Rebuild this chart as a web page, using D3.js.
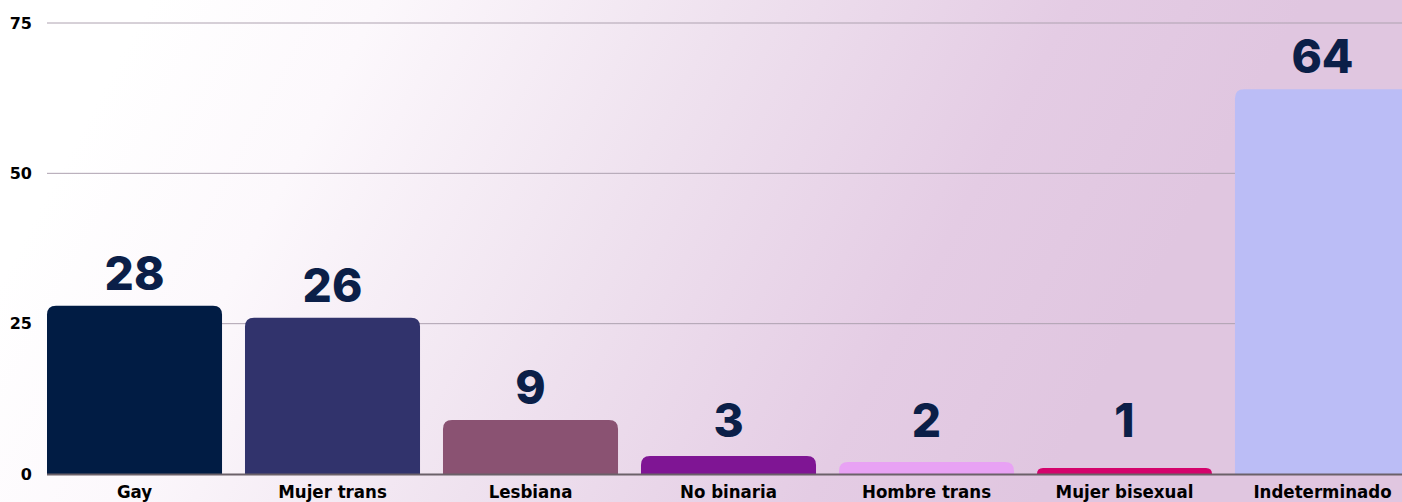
<!DOCTYPE html>
<html>
<head>
<meta charset="utf-8">
<script src="https://cdn.jsdelivr.net/npm/d3@7"></script>
<style>
  html, body { margin: 0; padding: 0; background: #fff; }
  svg { display: block; }
</style>
</head>
<body>
<svg id="chart"></svg>
<script>
// data
const categories = ['Gay', 'Mujer trans', 'Lesbiana', 'No binaria', 'Hombre trans', 'Mujer bisexual', 'Indeterminado'];
const values = [28, 26, 9, 3, 2, 1, 64];
const barColors = ['#011c44', '#31336c', '#8a5272', '#7f1594', '#e8a2f4', '#d4036c', '#bbbdf6'];
const yTicks = [0, 25, 50, 75];

const width = 1402;
const height = 502;
const margin = { top: 23, right: 0, bottom: 28, left: 47 };

const svg = d3.select('#chart')
    .attr('width', width)
    .attr('height', height);

// background wash: white at the left, lavender towards the right
const defs = svg.append('defs');
const grad = defs.append('linearGradient')
    .attr('id', 'bg')
    .attr('gradientUnits', 'userSpaceOnUse')
    .attr('x1', 150).attr('y1', 0)
    .attr('x2', 1050).attr('y2', 480);
grad.append('stop').attr('offset', '0').attr('stop-color', '#ffffff');
grad.append('stop').attr('offset', '0.2').attr('stop-color', '#fcf8fc');
grad.append('stop').attr('offset', '0.5').attr('stop-color', '#efe2ef');
grad.append('stop').attr('offset', '0.8').attr('stop-color', '#e4cce4');
grad.append('stop').attr('offset', '1').attr('stop-color', '#e0c6e0');

svg.append('rect')
    .attr('width', width)
    .attr('height', height)
    .attr('fill', 'url(#bg)');

// scales
const x = d3.scaleBand()
    .domain(categories)
    .range([margin.left, 1410])
    .paddingInner(0.116)
    .paddingOuter(0);

const y = d3.scaleLinear()
    .domain([0, 75])
    .range([height - margin.bottom, margin.top]);

// grid
svg.append('g')
    .selectAll('line')
    .data(yTicks.filter(d => d > 0))
    .join('line')
    .attr('x1', margin.left)
    .attr('x2', width)
    .attr('y1', d => y(d))
    .attr('y2', d => y(d))
    .attr('stroke', '#aea2b0')
    .attr('stroke-width', 1);

// y axis labels
const yAxis = svg.append('g')
    .attr('transform', `translate(${margin.left - 15},0)`)
    .call(d3.axisLeft(y).tickValues(yTicks).tickSize(0).tickPadding(0));
yAxis.select('.domain').remove();
yAxis.selectAll('text')
    .attr('fill', '#000')
    .style('font-family', '"DejaVu Sans", sans-serif')
    .style('font-weight', 'bold')
    .style('font-size', '16px');

// bars, rounded on top only
const r = 9;
function barPath(d, i) {
    const x0 = x(categories[i]);
    const w = x.bandwidth();
    const y0 = y(d);
    const yb = y(0);
    const rr = Math.min(r, (yb - y0));
    return `M${x0},${yb} V${y0 + rr} Q${x0},${y0} ${x0 + rr},${y0} H${x0 + w - rr} Q${x0 + w},${y0} ${x0 + w},${y0 + rr} V${yb} Z`;
}

svg.append('g')
    .selectAll('path')
    .data(values)
    .join('path')
    .attr('d', barPath)
    .attr('fill', (d, i) => barColors[i]);

// baseline
svg.append('line')
    .attr('x1', margin.left)
    .attr('x2', width)
    .attr('y1', y(0) + 0.5)
    .attr('y2', y(0) + 0.5)
    .attr('stroke', '#6b6169')
    .attr('stroke-width', 2);

// value labels (small bars share one label line)
svg.append('g')
    .selectAll('text')
    .data(values)
    .join('text')
    .attr('x', (d, i) => x(categories[i]) + x.bandwidth() / 2)
    .attr('y', d => y(Math.max(d, 3.5)) - 16)
    .attr('text-anchor', 'middle')
    .attr('fill', '#0b1f48')
    .style('font-family', 'Inter, "Noto Sans", sans-serif')
    .style('font-weight', '800')
    .style('font-size', '46px')
    .text(d => d);

// category labels
const xAxis = svg.append('g')
    .attr('transform', `translate(0,${y(0)})`)
    .call(d3.axisBottom(x).tickSize(0).tickPadding(11));
xAxis.select('.domain').remove();
xAxis.selectAll('text')
    .attr('fill', '#000')
    .attr('dy', '0.71em')
    .style('font-family', '"Liberation Sans Narrow", "DejaVu Sans Condensed", sans-serif')
    .style('font-weight', 'bold')
    .style('font-size', '18.5px');
</script>
</body>
</html>
